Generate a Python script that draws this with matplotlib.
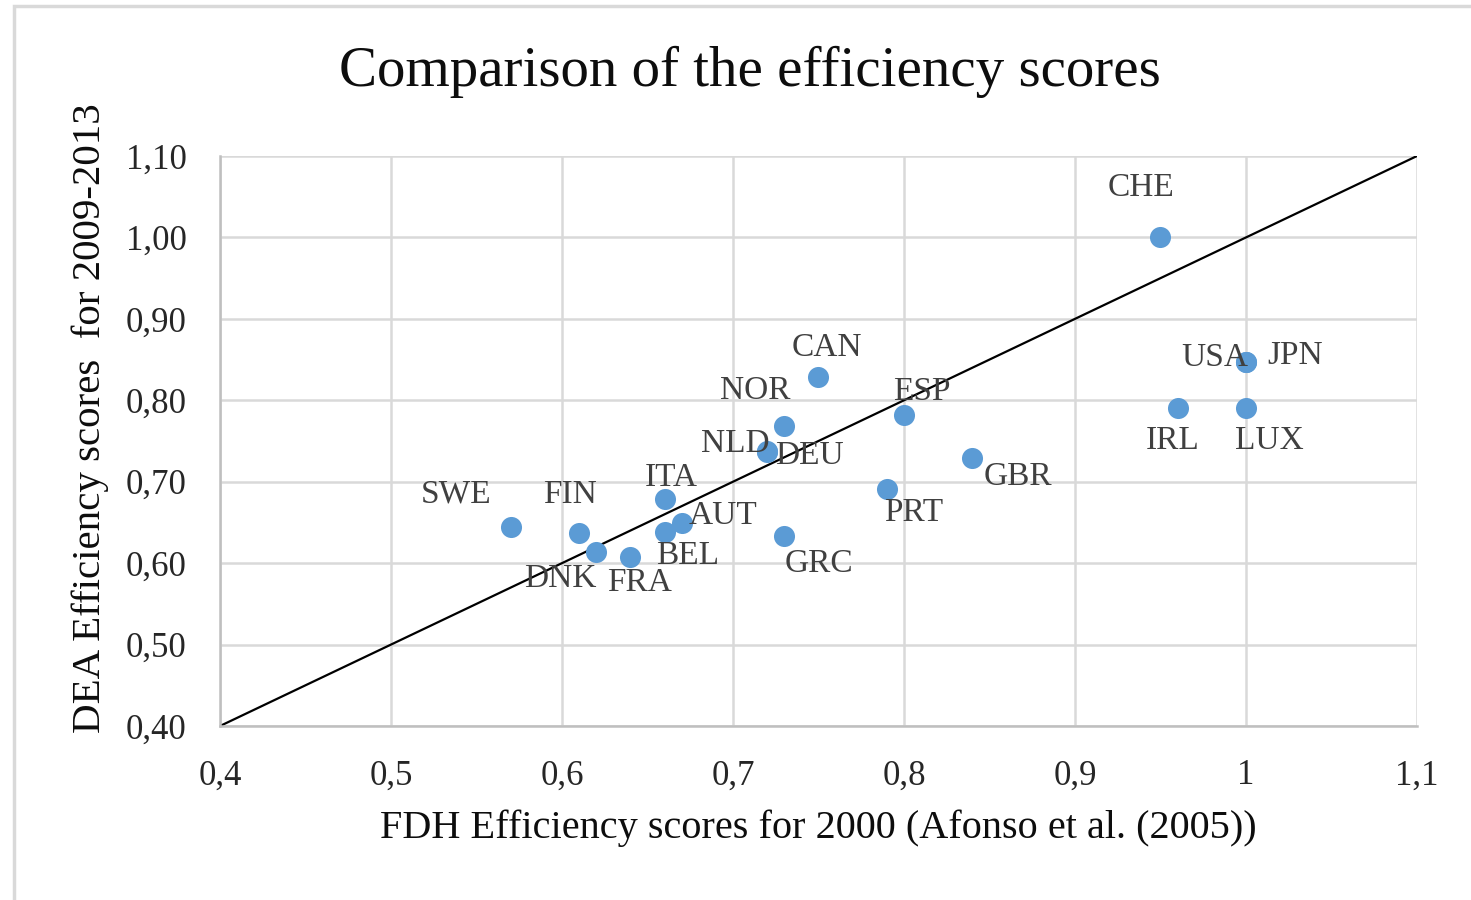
import numpy as np
import matplotlib
matplotlib.use("Agg")
import matplotlib.pyplot as plt
import matplotlib.patches as mpatches
from matplotlib.ticker import FuncFormatter

# data
countries = ["SWE", "FIN", "DNK", "FRA", "ITA", "BEL", "AUT", "NLD", "DEU",
             "NOR", "CAN", "GRC", "PRT", "ESP", "GBR", "CHE", "USA", "JPN",
             "IRL", "LUX"]
fdh_2000 = [0.57, 0.61, 0.62, 0.64, 0.66, 0.66, 0.67, 0.72, 0.72,
            0.73, 0.75, 0.73, 0.79, 0.80, 0.84, 0.95, 1.00, 1.00,
            0.96, 1.00]
dea_2009_2013 = [0.645, 0.637, 0.614, 0.607, 0.679, 0.638, 0.649, 0.738, 0.736,
                 0.768, 0.828, 0.633, 0.691, 0.782, 0.729, 1.00, 0.847, 0.847,
                 0.790, 0.790]

# where each label sits relative to its point (pixels, x right / y up)
label_offsets = {
    "SWE": (-55, 32), "FIN": (-9, 38), "DNK": (-36, -27), "FRA": (9, -25),
    "ITA": (7, 21), "BEL": (23, -24), "AUT": (41, 7), "NLD": (-32, 7),
    "DEU": (42, -3), "NOR": (-29, 36), "CAN": (8, 30), "GRC": (35, -27),
    "PRT": (27, -24), "ESP": (18, 23), "GBR": (46, -19), "CHE": (-19, 50),
    "USA": (-31, 4), "JPN": (49, 6), "IRL": (-5, -32), "LUX": (23, -32),
}

plt.rcParams['font.family'] = ['Liberation Serif', 'DejaVu Serif']

fig = plt.figure(figsize=(14.71, 9), dpi=100)
ax = fig.add_axes([220 / 1471, 1 - 726 / 900, 1197 / 1471, 570 / 900])

# light frame round the chart area
frame = mpatches.Rectangle((14 / 1471, -0.05), 1.2, 1.05 - 6 / 900,
                           transform=fig.transFigure, fill=False,
                           edgecolor="#D9D9D9", linewidth=2.5, zorder=0)
fig.add_artist(frame)

ax.set_xlim(0.4, 1.1)
ax.set_ylim(0.4, 1.1)
ax.set_xticks(np.arange(0.4, 1.101, 0.1))
ax.set_yticks(np.arange(0.4, 1.101, 0.1))
ax.xaxis.set_major_formatter(FuncFormatter(
    lambda v, p: ("%g" % round(v, 1)).replace(".", ",")))
ax.yaxis.set_major_formatter(FuncFormatter(
    lambda v, p: ("%.2f" % v).replace(".", ",")))

ax.grid(True, color="#D9D9D9", linewidth=1.8, zorder=0)
ax.set_axisbelow(True)
for side in ["top", "right"]:
    ax.spines[side].set_visible(False)
for side in ["left", "bottom"]:
    ax.spines[side].set_color("#BFBFBF")
    ax.spines[side].set_linewidth(1.8)

ax.tick_params(axis="both", length=0, labelsize=25, colors="#262626")
ax.tick_params(axis="x", pad=24)
ax.tick_params(axis="y", pad=24)

# 45 degree line
ax.plot([0.4, 1.1], [0.4, 1.1], color="black", linewidth=1.6, zorder=2)

ax.scatter(fdh_2000, dea_2009_2013, s=230, color="#5B9BD5", zorder=3,
           linewidths=0)

for name, x, y in zip(countries, fdh_2000, dea_2009_2013):
    dx, dy = label_offsets[name]
    ax.annotate(name, (x, y), xytext=(dx, dy), textcoords="offset pixels",
                ha="center", va="center", fontsize=24, color="#404040",
                zorder=4)

fig.text(750 / 1471, 1 - 72 / 900, "Comparison of the efficiency scores",
         ha="center", va="center", fontsize=41, color="#0D0D0D")
fig.text(818 / 1471, 1 - 828 / 900,
         "FDH Efficiency scores for 2000 (Afonso et al. (2005))",
         ha="center", va="center", fontsize=29, color="#0D0D0D")
fig.text(90 / 1471, 1 - 418 / 900, "DEA Efficiency scores  for 2009-2013",
         ha="center", va="center", rotation=90, fontsize=29.5, color="#0D0D0D")

fig.savefig("out.png", dpi=100)
